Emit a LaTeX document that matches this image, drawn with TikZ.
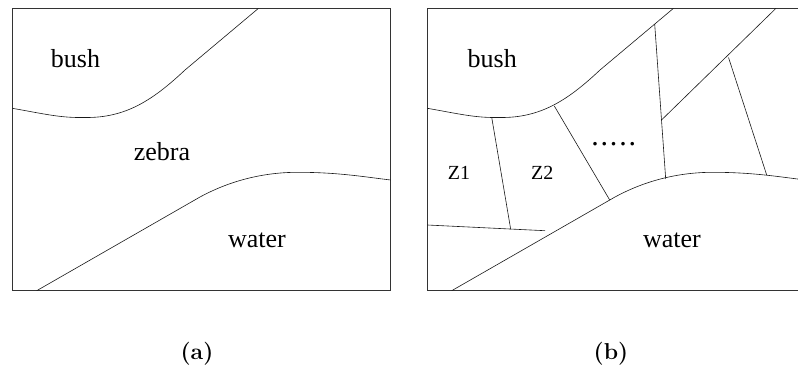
\documentclass[tikz,border=0pt]{standalone}
\usepackage{fontspec}
\newfontfamily\regionfont{Liberation Serif}
\tikzset{
  frame/.style={draw=black!80,line width=0.8pt},
  edge/.style={draw=black!90,line width=0.6pt},
  region/.style={font=\regionfont\fontsize{26}{30}\selectfont,inner sep=0pt},
  zone/.style={font=\regionfont\fontsize{20}{24}\selectfont,inner sep=0pt},
  caption/.style={font=\bfseries\fontsize{23}{28}\selectfont,inner sep=0pt}
}

\begin{document}
\begin{tikzpicture}[x=1pt,y=-1pt]
  \clip (0,0) rectangle (798,369);
  % frame, bush edge and water edge, the same in both panels
  \foreach \dx in {0,415}{
    \begin{scope}[xshift=\dx]
      \draw[frame] (12.3,8.3) rectangle (390.7,290.7);
      \draw[edge] (12.3,108.3) .. controls (45,114) and (60,118) .. (85,117.5)
        .. controls (125,118) and (152,101) .. (185,70) -- (258.5,8.3);
      \draw[edge] (36.7,290.7) -- (200,197) .. controls (235,178) and (270,172) .. (300,172.3)
        .. controls (340,172.5) and (365,177) .. (390.7,180);
    \end{scope}
  }
  % zones cut out of the zebra strip (b)
  \coordinate (z1top) at (491.7,117.3);
  \coordinate (z1bot) at (510.7,229.3);
  \coordinate (baseL) at (427.3,225);
  \coordinate (baseR) at (545,230.7);
  \coordinate (z2top) at (554.3,106);
  \coordinate (z2bot) at (609.6,199.8);
  \coordinate (midtop) at (654.7,24.2);
  \coordinate (midbot) at (665.7,179);
  \coordinate (diagL) at (661.5,120);
  \coordinate (diagR) at (776,8.3);
  \coordinate (lasttop) at (728.5,57.5);
  \coordinate (lastbot) at (766.7,175);
  \draw[edge] (z1top) -- (z1bot);
  \draw[edge] (baseL) -- (baseR);
  \draw[edge] (z2top) -- (z2bot);
  \draw[edge] (midtop) -- (midbot);
  \draw[edge] (diagL) -- (diagR);
  \draw[edge] (lasttop) -- (lastbot);

  % labels
  \node[region] (bushA) at (75.5,59) {bush};
  \node[region] (zebra) at (162,152) {zebra};
  \node[region] (waterA) at (257,240.8) {water};
  \node[region] (bushB) at (492.3,59) {bush};
  \node[zone] (zA) at (459,172.5) {Z1};
  \node[zone] (zB) at (542.3,172.5) {Z2};
  \node[region,font=\regionfont\fontsize{30}{34}\selectfont] (more) at (613.7,144.3)
    {.\kern1.8pt.\kern1.8pt.\kern1.8pt.\kern1.8pt.};
  \node[region] (waterB) at (672,240.8) {water};
  \node[caption] (capA) at (197,354) {(a)};
  \node[caption] (capB) at (611,354) {(b)};
\end{tikzpicture}
\end{document}
